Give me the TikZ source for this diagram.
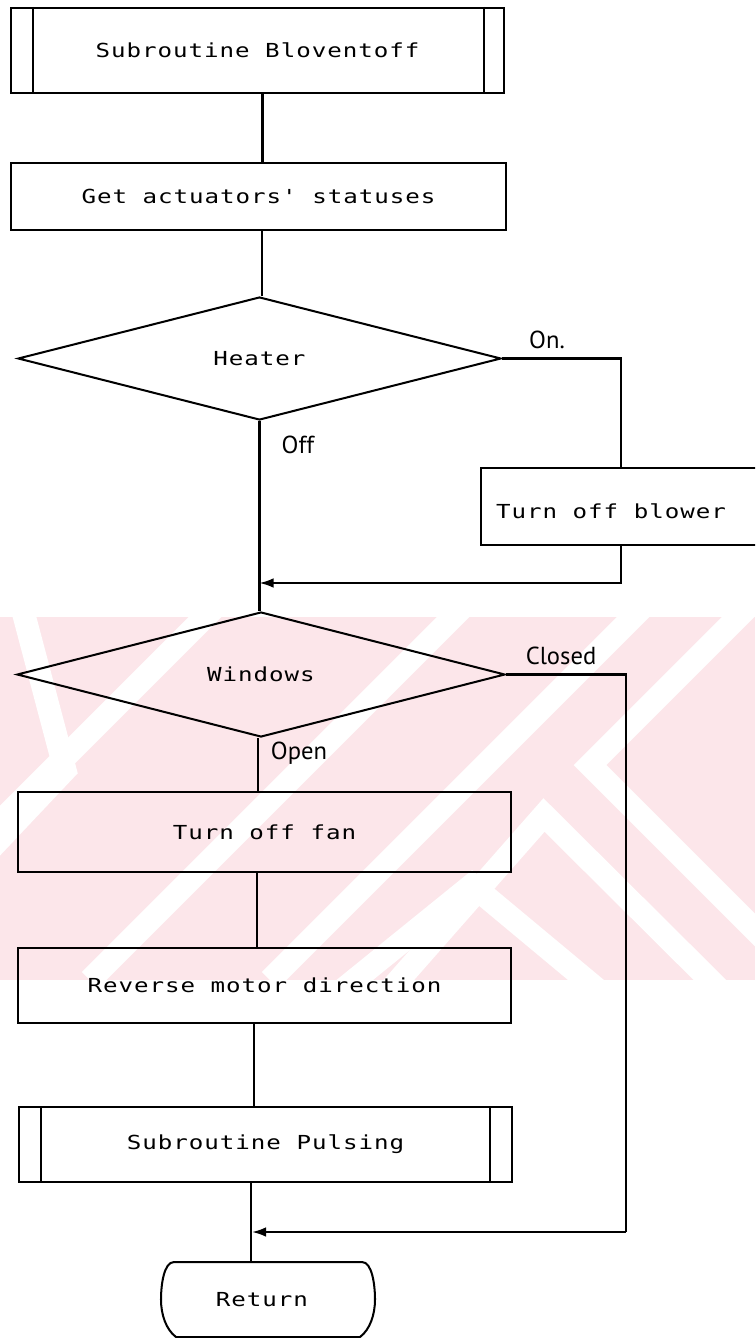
\documentclass[tikz,border=0pt]{standalone}
\usepackage{fontspec}
\newfontfamily\dotfont[FakeStretch=1.25,LetterSpace=5]{DejaVu Sans Mono}
\newfontfamily\labelfont{PT Sans}
\usetikzlibrary{shapes.geometric,arrows.meta,calc}
\newcommand\pxu{0.02cm}
\definecolor{wmpink}{RGB}{252,230,234}
\begin{document}
\begin{tikzpicture}[x=0.02cm,y=-0.02cm,
  flow/.style={draw, line width=1.15pt},
  mergeline/.style={flow, -{Latex[length=8pt,width=5.5pt]}},
  boxtext/.style={font=\dotfont\fontsize{11pt}{13pt}\selectfont},
  box/.style={draw, line width=1.15pt, rectangle, inner sep=0pt, boxtext},
  decision/.style={draw, line width=1.15pt, diamond, inner sep=0pt, boxtext},
  branch/.style={font=\labelfont\fontsize{14pt}{16pt}\selectfont, inner sep=0pt},
  stripe/.style={white, line width=0.46cm, line cap=butt, line join=miter}]

\path[use as bounding box] (0,0) rectangle (755,1338);
\clip (0,0) rectangle (755,1338);
\fill[white] (0,0) rectangle (755,1338);

% pale striped band across the middle of the sheet
\begin{scope}
  \clip (0,617) rectangle (755,980);
  \fill[wmpink] (0,617) rectangle (755,980);
  \draw[stripe] (20,600) -- (65,770) -- (-20,860);
  \draw[stripe] (222,600) -- (-158,980);
  \draw[stripe] (470,600) -- (90,980);
  \draw[stripe] (650,600) -- (270,980);
  \draw[stripe] (760,595) -- (590,765) -- (775,950);
  \draw[stripe] (390,990) -- (544,815) -- (730,1000);
  \draw[stripe] (330,1000) -- (472,885) -- (610,1000);
\end{scope}

% process steps
\node[box, minimum width=493*\pxu, minimum height=85*\pxu] (sub1) at (257.5,50.5) {Subroutine Bloventoff};
\draw[line width=1.15pt] ([xshift=23*\pxu]sub1.north west) -- ([xshift=23*\pxu]sub1.south west);
\draw[line width=1.15pt] ([xshift=-21*\pxu]sub1.north east) -- ([xshift=-21*\pxu]sub1.south east);

\node[box, minimum width=495*\pxu, minimum height=67*\pxu] (get) at (258.5,196.5) {Get actuators' statuses};

\node[decision, minimum width=483*\pxu, minimum height=123*\pxu] (heater) at (259.5,358.5) {Heater};

\node[box, minimum width=300*\pxu, minimum height=77*\pxu, anchor=west] (blower) at (480,506.5) {};
\node[boxtext, inner sep=0pt] (blowertxt) at (611,511) {Turn off blower};

\node[decision, minimum width=488*\pxu, minimum height=125*\pxu] (windows) at (261,674.5) {Windows};

\node[box, minimum width=493*\pxu, minimum height=80*\pxu] (fan) at (264.5,832) {Turn off fan};
\node[box, minimum width=493*\pxu, minimum height=75*\pxu] (rev) at (264.5,985.5) {Reverse motor direction};

\node[box, minimum width=493*\pxu, minimum height=75*\pxu] (puls) at (265.5,1144.5) {Subroutine Pulsing};
\draw[line width=1.15pt] ([xshift=23*\pxu]puls.north west) -- ([xshift=23*\pxu]puls.south west);
\draw[line width=1.15pt] ([xshift=-23*\pxu]puls.north east) -- ([xshift=-23*\pxu]puls.south east);

% terminator: flat top and bottom, bulging sides
\node[boxtext, minimum width=214*\pxu, minimum height=75*\pxu, inner sep=0pt] (ret) at (262,1299.5) {Return};
\draw[line width=1.15pt]
  ($(ret.center)+(-88,-37.5)$) -- ($(ret.center)+(100,-37.5)$)
  .. controls ($(ret.center)+(110,-37.5)$) and ($(ret.center)+(113,-15)$) .. ($(ret.center)+(113,0)$)
  .. controls ($(ret.center)+(113,15)$) and ($(ret.center)+(108,30)$) .. ($(ret.center)+(98,37.5)$)
  -- ($(ret.center)+(-86,37.5)$)
  .. controls ($(ret.center)+(-96,30)$) and ($(ret.center)+(-101,15)$) .. ($(ret.center)+(-101,0)$)
  .. controls ($(ret.center)+(-101,-15)$) and ($(ret.center)+(-98,-37.5)$) .. cycle;

% branch labels
\node[branch] (lblOn) at (547,340) {On.};
\node[branch] (lblOff) at (298,445) {Off};
\node[branch] (lblClosed) at (561,656) {Closed};
\node[branch] (lblOpen) at (299,753) {Open};

% bends and merge points
\coordinate (onTurn) at (621,358.5);
\coordinate (onBack) at (621,583);
\coordinate (mergeA) at (259.5,583);
\coordinate (closedTurn) at (626,674.5);
\coordinate (closedBack) at (626,1232);
\coordinate (mergeB) at (252,1232);

% connectors
\draw[flow] ([xshift=5*\pxu]sub1.south) -- ([xshift=5*\pxu]sub1.south |- get.north);
\draw[flow] ([xshift=3.5*\pxu]get.south) -- ([xshift=3.5*\pxu]get.south |- heater.north);
\draw[flow] (heater.east) -- (onTurn) -- (onTurn |- blower.north);
\draw[mergeline] (onTurn |- blower.south) -- (onBack) -- (mergeA);
\draw[flow] (heater.south) -- (heater.south |- windows.north);
\draw[flow] (windows.east) -- (closedTurn) -- (closedBack);
\draw[mergeline] (closedBack) -- (mergeB);
\draw[flow] ([xshift=-3*\pxu]windows.south) -- ([xshift=-3*\pxu]windows.south |- fan.north);
\draw[flow] ([xshift=-7.5*\pxu]fan.south) -- ([xshift=-7.5*\pxu]fan.south |- rev.north);
\draw[flow] ([xshift=-10.5*\pxu]rev.south) -- ([xshift=-10.5*\pxu]rev.south |- puls.north);
\draw[flow] ([xshift=-14.5*\pxu]puls.south) -- ([xshift=-14.5*\pxu]puls.south |- ret.north);
\end{tikzpicture}
\end{document}
